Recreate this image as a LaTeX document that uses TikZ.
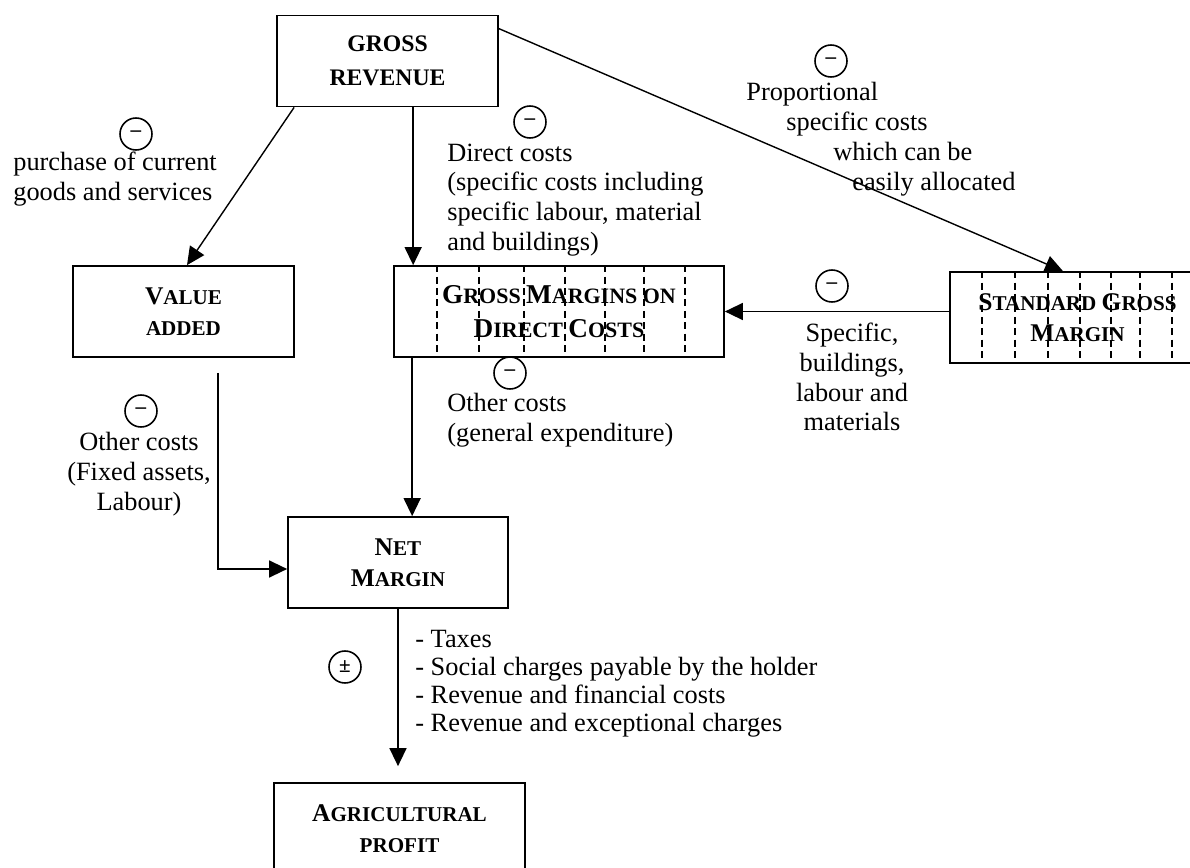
\documentclass[tikz,border=0pt]{standalone}
\usepackage{fontspec}
\setmainfont{Liberation Serif}
\usetikzlibrary{arrows.meta,positioning}

\newcommand{\firstcap}[1]{{\fontsize{14.5}{17.5}\selectfont #1}}
\newcommand{\firstcapL}[1]{{\fontsize{15.5}{19}\selectfont #1}}

\begin{document}
\begin{tikzpicture}[x=0.02cm, y=-0.02cm, every node/.style={align=center},
  stage/.style={rectangle, draw=black, line width=1pt, minimum height=1.82cm, inner sep=0pt, font=\fontsize{12}{17.5}\selectfont\bfseries},
  note/.style={font=\fontsize{15}{17}\selectfont, inner sep=0pt},
  sign/.style={circle, draw=black, line width=0.9pt, minimum size=0.64cm, inner sep=0pt, font=\fontsize{12}{12}\selectfont\bfseries},
  flow/.style={line width=0.8pt, -{Triangle[length=0.36cm, width=0.34cm]}},
  divider/.style={line width=0.6pt, dash pattern=on 4pt off 2.5pt}]
\clip (0,0) rectangle (1190,868);

% result boxes
\node[stage, minimum width=4.42cm, font=\fontsize{13.5}{19}\selectfont\bfseries] (gross) at (387.5,61) {GROSS\\REVENUE};
\node[stage, minimum width=4.42cm] (value) at (183.5,311.5) {\firstcap{V}ALUE\\ADDED};
\node[stage, minimum width=6.6cm, font=\fontsize{12.5}{19}\selectfont\bfseries] (direct) at (559,311.5) {\firstcapL{G}ROSS \firstcapL{M}ARGINS ON\\\firstcapL{D}IRECT \firstcapL{C}OSTS};
\node[stage, minimum width=5.1cm] (standard) at (1077.5,317.5) {\firstcap{S}TANDARD \firstcap{G}ROSS\\\firstcap{M}ARGIN};
\node[stage, minimum width=4.4cm] (net) at (398,562.5) {\firstcap{N}ET\\\firstcap{M}ARGIN};
\node[stage, minimum width=5.02cm] (profit) at (399.5,828.5) {\firstcap{A}GRICULTURAL\\PROFIT};

% dashed columns
\foreach \x in {437,479,524,565,605,644,685}
  \draw[divider] (\x,0 |- direct.north) -- (\x,0 |- direct.south);
\foreach \x in {982,1015,1048,1080,1111,1140,1172}
  \draw[divider] (\x,0 |- standard.north) -- (\x,0 |- standard.south);

% arrows
\draw[flow] ([xshift=0.36cm]gross.south west) -- ([xshift=0.07cm]value.north);
\draw[flow] ([xshift=0.4cm]direct.north west |- gross.south) -- ([xshift=0.4cm]direct.north west);
\draw[flow] ([yshift=-0.28cm]gross.north east) -- ([xshift=-0.29cm]standard.north);
\draw[flow] (standard.west |- direct.east) -- (direct.east);
\draw[flow] ([xshift=0.38cm]direct.south west) -- ([xshift=0.38cm]direct.south west |- net.north);
\draw[flow, shorten <=0.3cm] ([xshift=0.69cm]value.south) |- ([yshift=-0.13cm]net.west);
\draw[flow, shorten >=0.32cm] (net.south) -- (net.south |- profit.north);

% signs and labels
\node[sign] (s1) at (136,134) {–};
\node[note, align=left, anchor=west] (c1) at (13,179) {purchase of current\\goods and services};
\node[sign] (s2) at (530,122) {–};
\node[note, align=left, anchor=west] (c2) at (447,200) {Direct costs\\(specific costs including\\specific labour, material\\and buildings)};
\node[sign] (s3) at (831,61) {–};
\node[note, align=left, anchor=west] (c3) at (746,139) {Proportional\\\hspace*{0.8cm}specific costs\\\hspace*{1.74cm}which can be\\\hspace*{2.12cm}easily allocated};
\node[sign] (s4) at (832,286) {–};
\node[note] (c4) at (852,377) {Specific,\\buildings,\\labour and\\materials};
\node[sign] (s5) at (141,411) {–};
\node[note] (c5) at (139,474) {Other costs\\(Fixed assets,\\Labour)};
\node[sign] (s6) at (510,373) {–};
\node[note, align=left, anchor=west] (c6) at (447,420) {Other costs\\(general expenditure)};
\node[sign] (s7) at (345,667) {±};
\node[note, align=left, anchor=west, font=\fontsize{15}{16}\selectfont] (c7) at (415,684) {- Taxes\\- Social charges payable by the holder\\- Revenue and financial costs\\- Revenue and exceptional charges};
\end{tikzpicture}
\end{document}
